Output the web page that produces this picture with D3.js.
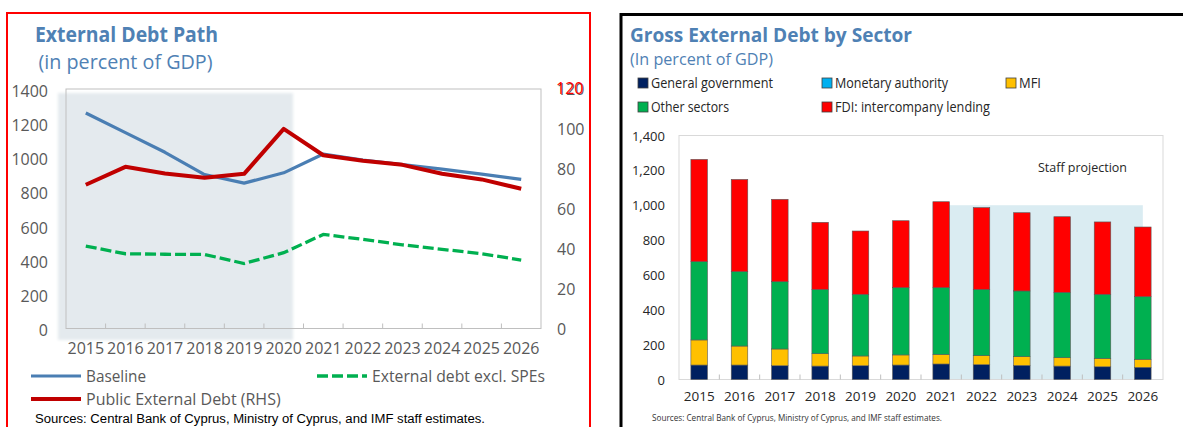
<!DOCTYPE html>
<html>
<head>
<meta charset="utf-8">
<script src="https://cdn.jsdelivr.net/npm/d3@7"></script>
<style>
  html, body { margin: 0; padding: 0; background: #fff; }
  svg { display: block; }
  text { font-family: "Open Sans", "Noto Sans", sans-serif; }
</style>
</head>
<body>
<svg id="chart" width="1183" height="427"></svg>
<script>
// ---- data ----
const years = ["2015","2016","2017","2018","2019","2020","2021","2022","2023","2024","2025","2026"];

// External debt path (percent of GDP)
const baseline      = [1260, 1145, 1030, 900, 850, 910, 1020, 985, 958, 932, 902, 872];
const excludingSPEs = [482, 437, 434, 433, 380, 443, 550, 521, 489, 463, 437, 400];
const publicDebt    = [72, 81, 77.7, 75.5, 77.5, 100, 86.8, 84, 82, 77.5, 74.7, 70];   // right-hand scale

const leftTicks  = [0, 200, 400, 600, 800, 1000, 1200, 1400];
const rightTicks = [0, 20, 40, 60, 80, 100, 120];

// Gross external debt by sector (percent of GDP)
const sectorNames   = ["General government", "Monetary authority", "MFI", "Other sectors", "FDI: intercompany lending"];
const sectorColors  = ["#002060", "#00b0f0", "#ffc000", "#00b050", "#ff0000"];
const generalGov    = [83, 83, 79, 77, 79, 83, 89, 85, 81, 77, 73, 70];
const monetaryAuth  = [0, 0, 0, 0, 0, 0, 0, 0, 0, 0, 0, 0];
const mfi           = [144, 109, 96, 71, 56, 58, 55, 52, 50, 48, 48, 46];
const otherSectors  = [449, 427, 386, 369, 354, 386, 383, 380, 377, 375, 368, 359];
const fdiLending    = [587, 529, 473, 385, 363, 384, 493, 469, 449, 434, 415, 400];
const barTicks      = [0, 200, 400, 600, 800, 1000, 1200, 1400];
const projectionStart = "2021", projectionEnd = "2026", projectionLevel = 1000;

const svg = d3.select("#chart");

// squeeze a text element to a given rendered width
function fit(sel, w) {
  sel.each(function () {
    const L = this.getComputedTextLength();
    if (Math.abs(L - w) > 1) d3.select(this).attr("textLength", w).attr("lengthAdjust", "spacingAndGlyphs");
  });
  return sel;
}

// ================= Left panel: External Debt Path =================
const L = svg.append("g");
L.append("rect").attr("x", 7).attr("y", 13).attr("width", 583).attr("height", 480)
  .attr("fill", "none").attr("stroke", "#ff0000").attr("stroke-width", 2);

const titleBlue = "#4f81b4";
fit(L.append("text").attr("x", 35).attr("y", 42).attr("font-size", 21).attr("font-weight", 700)
  .attr("fill", titleBlue).text("External Debt Path"), 183);
fit(L.append("text").attr("x", 38.5).attr("y", 69).attr("font-size", 20)
  .attr("fill", titleBlue).text("(in percent of GDP)"), 174);

const xL = d3.scaleBand().domain(years).range([66, 541]);
const yL = d3.scaleLinear().domain([0, 1400]).range([328.5, 89]);
const yR = d3.scaleLinear().domain([0, 120]).range([328.5, 89]);
const cx = d => xL(d) + xL.bandwidth() / 2;

// historical period shading
const defs = svg.append("defs");
defs.append("filter").attr("id", "soft").attr("x", "-10%").attr("y", "-10%").attr("width", "120%").attr("height", "120%")
  .append("feGaussianBlur").attr("stdDeviation", 1.6);
L.append("rect").attr("x", 58).attr("y", 93).attr("width", 235).attr("height", 247)
  .attr("fill", "#e4eaee").attr("filter", "url(#soft)");

// plot frame
L.append("rect").attr("x", xL.range()[0]).attr("y", yL.range()[1])
  .attr("width", xL.range()[1] - xL.range()[0]).attr("height", yL.range()[0] - yL.range()[1])
  .attr("fill", "none").attr("stroke", "#bfbfbf").attr("stroke-width", 1);

// category boundary ticks
L.append("g").selectAll("line").data(years.slice(1)).join("line")
  .attr("x1", d => xL(d)).attr("x2", d => xL(d))
  .attr("y1", yL(0)).attr("y2", yL(0) - 5)
  .attr("stroke", "#bfbfbf").attr("stroke-width", 1);

// axes
const axisL = L.append("g").attr("transform", `translate(${xL.range()[0]},0)`)
  .call(d3.axisLeft(yL).tickValues(leftTicks).tickSize(0).tickPadding(18).tickFormat(d3.format("d")));
axisL.select(".domain").remove();
axisL.selectAll("text").attr("font-size", 16).attr("fill", "#595959").attr("dy", "0.45em");

const axisR = L.append("g").attr("transform", `translate(${xL.range()[1]},0)`)
  .call(d3.axisRight(yR).tickValues(rightTicks).tickSize(0).tickPadding(16).tickFormat(d3.format("d")));
axisR.select(".domain").remove();
axisR.selectAll("text").attr("font-size", 16).attr("fill", "#595959").attr("dy", "0.35em");
// the top right-hand label carries a red overprint
L.append("text").attr("x", xL.range()[1] + 15).attr("y", yR(120)).attr("dy", "0.3em")
  .attr("font-size", 16).attr("fill", "#ff0000").text("120");

const axisX = L.append("g").attr("transform", `translate(0,${yL(0)})`)
  .call(d3.axisBottom(xL).tickSize(0).tickPadding(14));
axisX.select(".domain").remove();
axisX.selectAll("text").attr("font-size", 16).attr("fill", "#595959");

// series
const lineL = d3.line().x((d, i) => cx(years[i])).y(d => yL(d));
const lineR = d3.line().x((d, i) => cx(years[i])).y(d => yR(d));

L.append("path").attr("d", lineL(excludingSPEs)).attr("fill", "none")
  .attr("stroke", "#00b050").attr("stroke-width", 3.3).attr("stroke-dasharray", "11,4");
L.append("path").attr("d", lineL(baseline)).attr("fill", "none")
  .attr("stroke", "#4a7eb3").attr("stroke-width", 3.2).attr("stroke-linejoin", "round");
L.append("path").attr("d", lineR(publicDebt)).attr("fill", "none")
  .attr("stroke", "#c00000").attr("stroke-width", 4).attr("stroke-linejoin", "round");

// legend
const legL = L.append("g");
const legItems = [
  { x: 31, y: 376, label: "Baseline", color: "#4a7eb3", dash: null, w: 3.2, tw: 60 },
  { x: 317, y: 376, label: "External debt excl. SPEs", color: "#00b050", dash: "11,4", w: 3.3, tw: 173 },
  { x: 31, y: 399, label: "Public External Debt (RHS)", color: "#c00000", dash: null, w: 4, tw: 195 }
];
legItems.forEach(it => {
  legL.append("line").attr("x1", it.x).attr("x2", it.x + 50).attr("y1", it.y).attr("y2", it.y)
    .attr("stroke", it.color).attr("stroke-width", it.w).attr("stroke-dasharray", it.dash);
  fit(legL.append("text").attr("x", it.x + 55).attr("y", it.y + 6).attr("font-size", 16)
    .attr("fill", "#595959").text(it.label), it.tw);
});

fit(L.append("text").attr("x", 35).attr("y", 423).attr("font-size", 12)
  .style("font-family", "'Liberation Sans', Arial, sans-serif").attr("fill", "#000")
  .text("Sources: Central Bank of Cyprus, Ministry of Cyprus, and IMF staff estimates."), 450);

// ================= Right panel: Gross External Debt by Sector =================
const R = svg.append("g");
R.append("rect").attr("x", 621).attr("y", 14.5).attr("width", 600).attr("height", 480)
  .attr("fill", "none").attr("stroke", "#000").attr("stroke-width", 3);

fit(R.append("text").attr("x", 630).attr("y", 42).attr("font-size", 20).attr("font-weight", 700)
  .attr("fill", titleBlue).text("Gross External Debt by Sector"), 282);
fit(R.append("text").attr("x", 630).attr("y", 65).attr("font-size", 17)
  .attr("fill", titleBlue).text("(In percent of GDP)"), 143);

// legend
const legendPos = [
  { x: 638, y: 78, tw: 122 }, { x: 822, y: 78, tw: 113 }, { x: 1006, y: 78, tw: 22 },
  { x: 638, y: 102, tw: 78 }, { x: 822, y: 102, tw: 155 }
];
sectorNames.forEach((name, i) => {
  const p = legendPos[i];
  R.append("rect").attr("x", p.x).attr("y", p.y).attr("width", 10).attr("height", 10)
    .attr("fill", sectorColors[i]).attr("stroke", "#404040").attr("stroke-width", 0.8);
  fit(R.append("text").attr("x", p.x + 13).attr("y", p.y + 10).attr("font-size", 15)
    .attr("fill", "#262626").text(name), p.tw);
});

const xB = d3.scaleBand().domain(years).range([679, 1163]);
const yB = d3.scaleLinear().domain([0, 1400]).range([379.5, 135.5]);
const barW = xB.bandwidth() * 0.41;
const bcx = d => xB(d) + xB.bandwidth() / 2;

// projection shading
R.append("rect").attr("x", bcx(projectionStart)).attr("y", yB(projectionLevel))
  .attr("width", bcx(projectionEnd) - bcx(projectionStart)).attr("height", yB(0) - yB(projectionLevel))
  .attr("fill", "#daecf2");

// frame
R.append("rect").attr("x", xB.range()[0]).attr("y", yB.range()[1])
  .attr("width", xB.range()[1] - xB.range()[0]).attr("height", yB.range()[0] - yB.range()[1])
  .attr("fill", "none").attr("stroke", "#d9d9d9").attr("stroke-width", 1);

R.append("g").selectAll("line").data(years.slice(1)).join("line")
  .attr("x1", d => xB(d)).attr("x2", d => xB(d))
  .attr("y1", yB(0)).attr("y2", yB(0) - 5)
  .attr("stroke", "#bfbfbf").attr("stroke-width", 1);

// stacked bars
const rows = years.map((y, i) => ({
  year: y,
  s0: generalGov[i], s1: monetaryAuth[i], s2: mfi[i], s3: otherSectors[i], s4: fdiLending[i]
}));
const stacked = d3.stack().keys(["s0", "s1", "s2", "s3", "s4"])(rows);
R.append("g").selectAll("g").data(stacked).join("g")
  .attr("fill", (d, i) => sectorColors[i])
  .selectAll("rect").data(d => d.filter(s => s[1] > s[0])).join("rect")
  .attr("x", d => bcx(d.data.year) - barW / 2)
  .attr("width", barW)
  .attr("y", d => yB(d[1]))
  .attr("height", d => yB(d[0]) - yB(d[1]))
  .attr("stroke", "#595959").attr("stroke-width", 0.6);

// axes
const axB = R.append("g").attr("transform", `translate(${xB.range()[0]},0)`)
  .call(d3.axisLeft(yB).tickValues(barTicks).tickSize(0).tickPadding(14).tickFormat(d3.format(",")));
axB.select(".domain").remove();
axB.selectAll("text").attr("font-size", 13).attr("fill", "#262626").attr("dy", "0.35em");

const axBX = R.append("g").attr("transform", `translate(0,${yB(0)})`)
  .call(d3.axisBottom(xB).tickSize(0).tickPadding(12));
axBX.select(".domain").remove();
axBX.selectAll("text").attr("font-size", 13.5).attr("fill", "#262626");

R.append("text").attr("x", 1038).attr("y", 172).attr("font-size", 13.5).attr("fill", "#262626")
  .text("Staff projection").call(s => fit(s, 89));

fit(R.append("text").attr("x", 652).attr("y", 421).attr("font-size", 8.5).attr("fill", "#333")
  .text("Sources: Central Bank of Cyprus, Ministry of Cyprus, and IMF staff estimates."), 290);
</script>
</body>
</html>
